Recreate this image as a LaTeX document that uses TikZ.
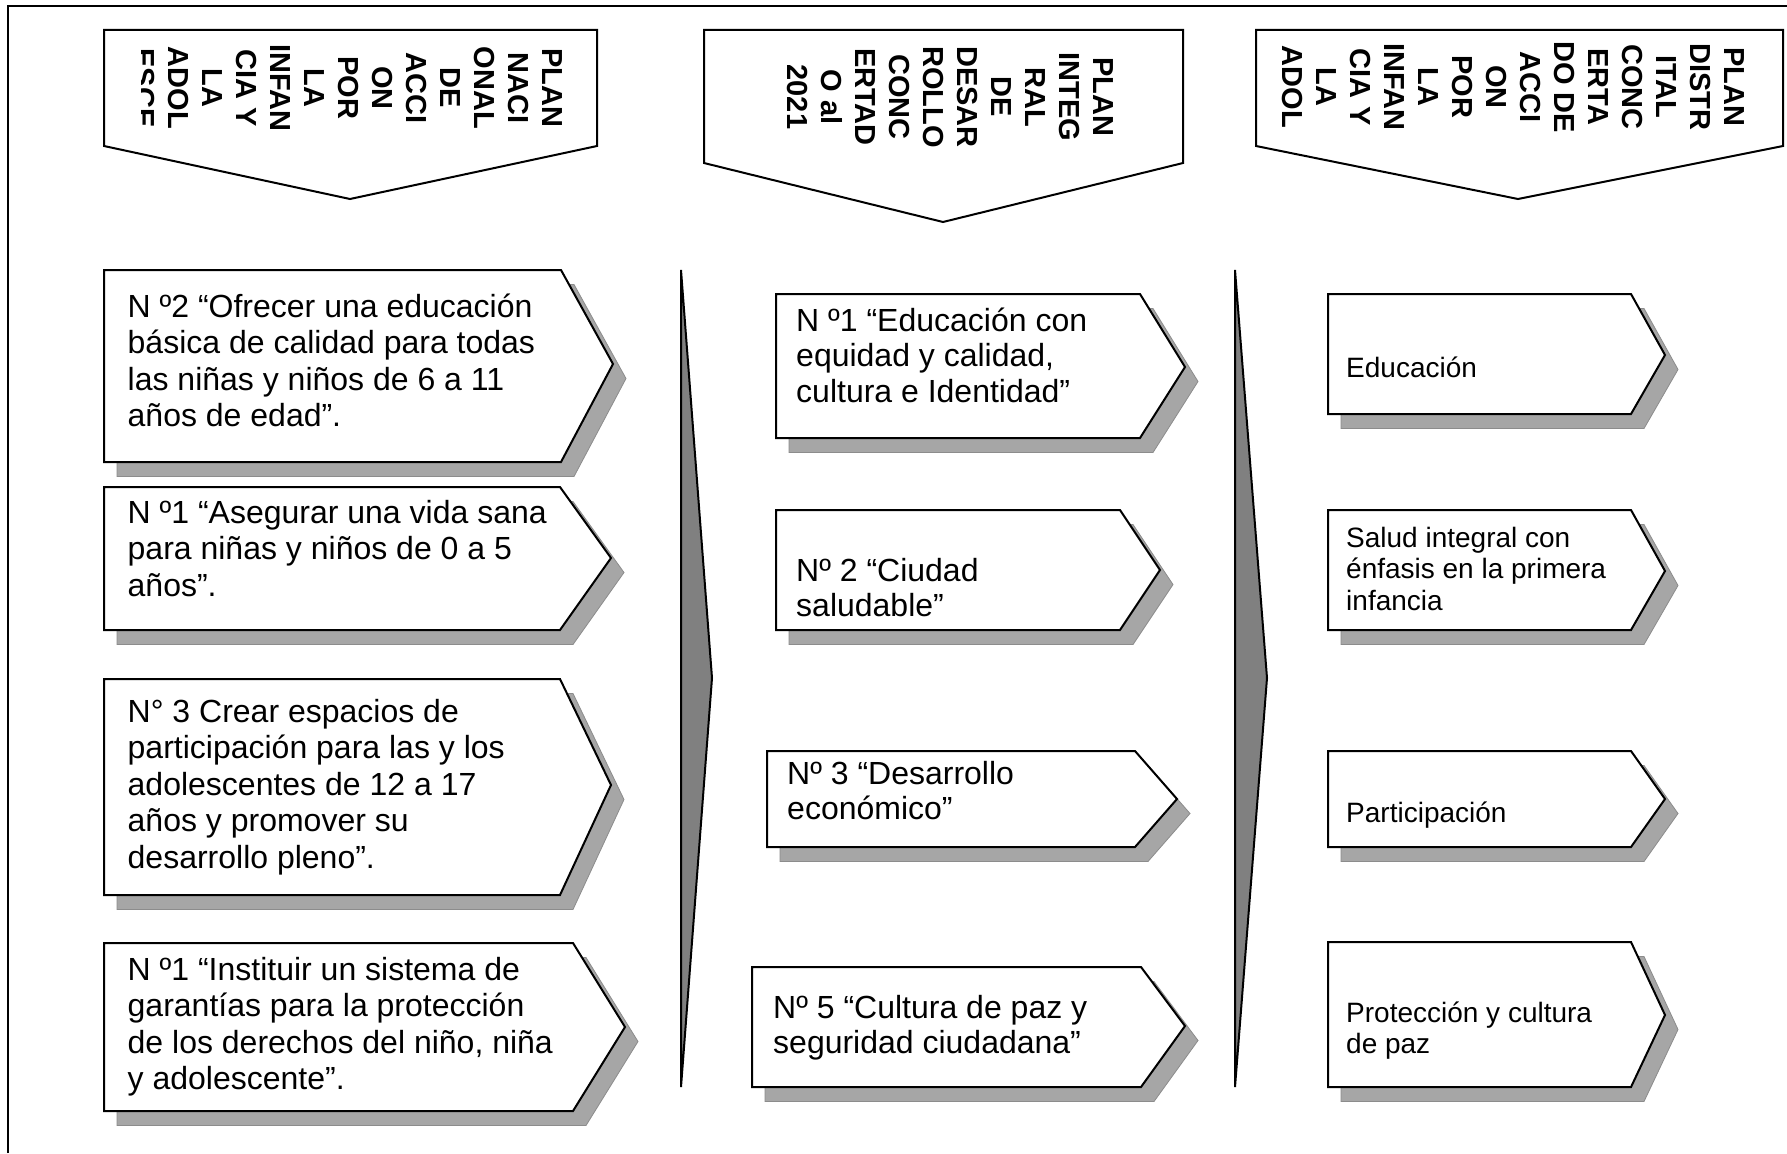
\documentclass[tikz,border=0pt]{standalone}
\usepackage{fontspec}
\setmainfont{Liberation Sans}
\definecolor{shadowgray}{HTML}{A6A6A6}
\definecolor{shadowedge}{HTML}{8C8C8C}
\definecolor{arrowgray}{HTML}{808080}
\newcommand\firstln{\rule{0pt}{0.8em}}
\newcommand\pentbox[6]{%
  \path[shadowfill, shift={(13,14.5)}] (#1,#2) -- (#4,#2) -- (#5,#6) -- (#4,#3) -- (#1,#3) -- cycle;
  \path[shapeline] (#1,#2) -- (#4,#2) -- (#5,#6) -- (#4,#3) -- (#1,#3) -- cycle;}
\newcommand\hdrbox[7]{% left, right, top, side, tipx, tipy
  \path[shapeline] (#1,#3) -- (#2,#3) -- (#2,#4) -- (#5,#6) -- (#1,#4) -- cycle;}
\begin{document}
\begin{tikzpicture}[x=1pt,y=-1pt,
  shapeline/.style={draw=black, line width=2pt, fill=white, line join=miter},
  shadowfill/.style={fill=shadowgray, draw=shadowedge, line width=0.8pt},
  bigarrow/.style={fill=arrowgray, draw=black, line width=2pt, line join=miter},
  hdrtext/.style={rotate=-90, anchor=north, align=center, inner sep=0pt,
    font=\bfseries\fontsize{29}{34}\selectfont},
  bigtext/.style={anchor=north west, align=left, inner sep=0pt,
    font=\fontsize{32}{36.5}\selectfont},
  midtext/.style={anchor=north west, align=left, inner sep=0pt,
    font=\fontsize{32}{35.5}\selectfont},
  smalltext/.style={anchor=north west, align=left, inner sep=0pt,
    font=\fontsize{28}{31.5}\selectfont}]
\useasboundingbox (0,0) rectangle (1787,1153);
\fill[white] (0,0) rectangle (1787,1153);
% outer frame
\draw[line width=2pt] (8,1153) -- (8,6) -- (1787,6);
% headers
\hdrbox{104}{597}{30}{146}{350}{199}{}
\hdrbox{704}{1183}{30}{163}{943}{222}{}
\hdrbox{1256}{1783}{30}{146}{1518}{199}{}
\begin{scope}
  \clip (141,30) rectangle (597,146);
  \node[hdrtext] (h1) at (563,88) {PLAN\\NACI\\ONAL\\DE\\ACCI\\ON\\POR\\LA\\INFAN\\CIA Y\\LA\\ADOL\\ESCE};
\end{scope}
\node[hdrtext] (h2) at (1114,97) {PLAN\\INTEG\\RAL\\DE\\DESAR\\ROLLO\\CONC\\ERTAD\\O al\\2021};
\begin{scope}
  \clip (1278,30) rectangle (1783,146);
  \node[hdrtext] (h3) at (1745,87) {PLAN\\DISTR\\ITAL\\CONC\\ERTA\\DO DE\\ACCI\\ON\\POR\\LA\\INFAN\\CIA Y\\LA\\ADOL};
\end{scope}
% big grey arrows
\path[bigarrow] (681,270) -- (712,678) -- (681,1087) -- cycle;
\path[bigarrow] (1235,270) -- (1267,678) -- (1235,1087) -- cycle;
% left column
\pentbox{104}{270}{462}{561}{613}{364}
\pentbox{104}{487}{630}{560}{611}{558}
\pentbox{104}{679}{895}{560}{611}{785}
\pentbox{104}{943}{1111}{573}{625}{1027}
% middle column
\pentbox{776}{294}{438}{1140}{1185}{367}
\pentbox{776}{510}{630}{1120}{1160}{570}
\pentbox{767}{751}{847}{1135}{1177}{799}
\pentbox{752}{967}{1087}{1141}{1185}{1026}
% right column
\pentbox{1328}{294}{414}{1631}{1665}{355}
\pentbox{1328}{510}{630}{1631}{1665}{571}
\pentbox{1328}{751}{847}{1631}{1665}{799}
\pentbox{1328}{942}{1087}{1631}{1665}{1015}
% texts
\node[bigtext] (l1) at (127.5,291.4) {\firstln N º2 “Ofrecer una educación\\básica de calidad para todas\\las niñas y niños de 6 a 11\\años de edad”.};
\node[bigtext] (l2) at (127.5,497.4) {\firstln N º1 “Asegurar una vida sana\\para niñas y niños de 0 a 5\\años”.};
\node[bigtext] (l3) at (127.5,696.4) {\firstln N° 3 Crear espacios de\\participación para las y los\\adolescentes de 12 a 17\\años y promover su\\desarrollo pleno”.};
\node[bigtext] (l4) at (127.5,954.4) {\firstln N º1 “Instituir un sistema de\\garantías para la protección\\de los derechos del niño, niña\\y adolescente”.};
\node[midtext] (m1) at (796,305.4) {\firstln N º1 “Educación con\\equidad y calidad,\\cultura e Identidad”};
\node[midtext] (m2) at (796,555.4) {\firstln Nº 2 “Ciudad\\saludable”};
\node[midtext] (m3) at (787,758.4) {\firstln Nº 3 “Desarrollo\\económico”};
\node[midtext] (m4) at (773,992.4) {\firstln Nº 5 “Cultura de paz y\\seguridad ciudadana”};
\node[smalltext] (r1) at (1346,354.6) {\firstln Educación};
\node[smalltext] (r2) at (1346,524.6) {\firstln Salud integral con\\énfasis en la primera\\infancia};
\node[smalltext] (r3) at (1346,799.6) {\firstln Participación};
\node[smalltext] (r4) at (1346,999.6) {\firstln Protección y cultura\\de paz};
\end{tikzpicture}
\end{document}
